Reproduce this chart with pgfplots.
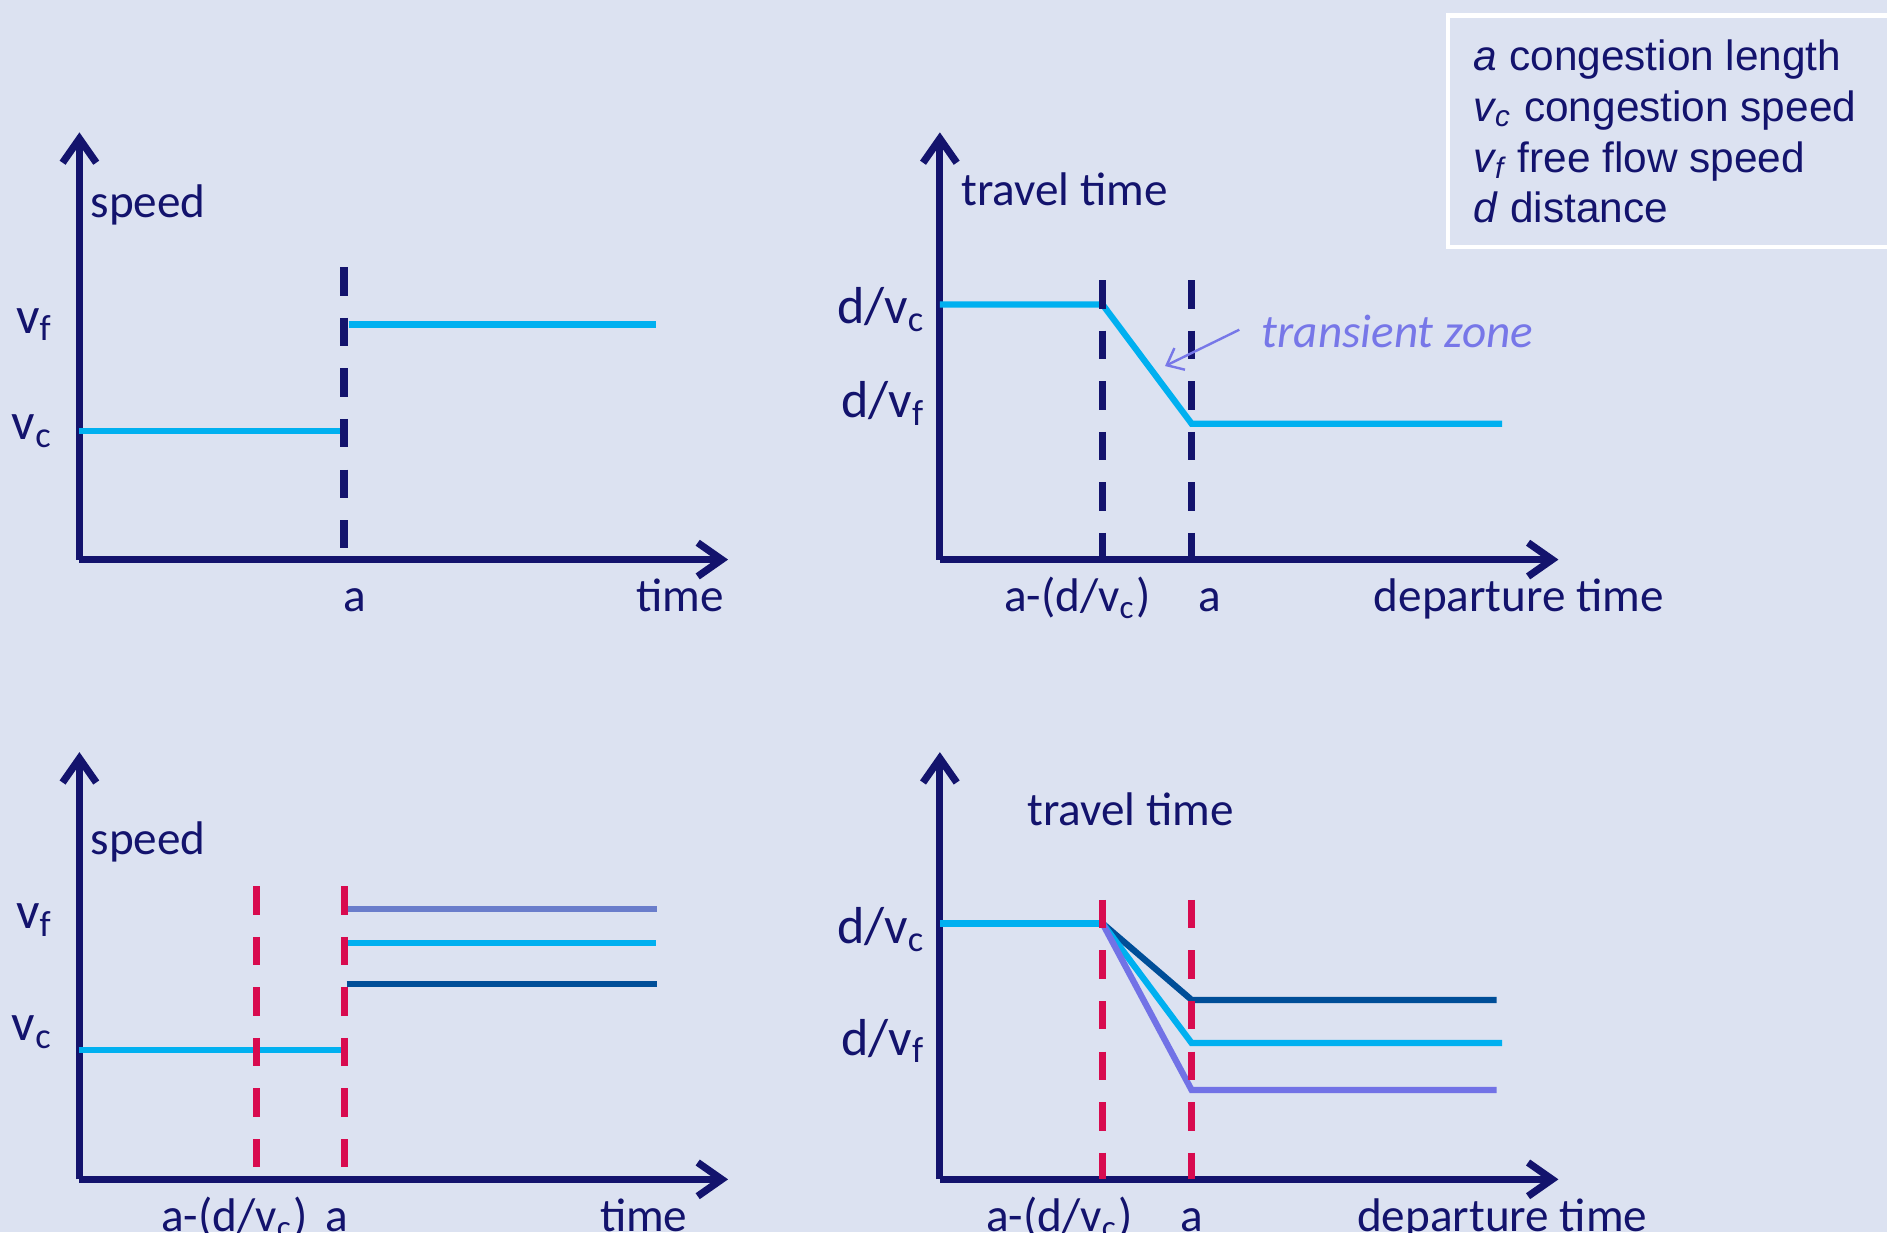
\documentclass[border=0pt]{standalone}
\usepackage{pgfplots}
\pgfplotsset{compat=1.18}
\usepackage{fontspec}
\setmainfont{Carlito}
\newfontfamily\arialfont{Liberation Sans}
\usetikzlibrary{arrows.meta}

\definecolor{bgc}{HTML}{DCE2F1}
\definecolor{navy}{HTML}{13136D}
\definecolor{cyanl}{HTML}{00B0F0}
\definecolor{dblue}{HTML}{004E98}
\definecolor{slate}{HTML}{6A7DCB}
\definecolor{lav}{HTML}{7272E6}
\definecolor{crim}{HTML}{D80B4F}
\definecolor{tz}{HTML}{7777E8}

\newcommand{\lblfont}{\fontsize{9.8}{11}\selectfont}
\newcommand{\vlblfont}{\fontsize{10.8}{12}\selectfont}

\pgfplotsset{
  panel/.style={
    scale only axis,
    height=88.75pt,
    anchor=south west,
    xmin=0, xmax=10, ymin=0, ymax=10,
    axis lines=left,
    axis line style={draw=navy, line width=1.5pt},
    x axis line style={-{Straight Barb[length=5pt,width=7pt]}},
    y axis line style={-{Straight Barb[length=5pt,width=7pt]}},
    major tick length=0pt,
    tick style={draw=none},
    ticklabel style={text=navy},
    xticklabel style={font=\lblfont, anchor=base, yshift=-10.75pt},
    yticklabel style={anchor=east, inner sep=0pt},
    clip=false,
  },
  dline/.style={line width=1.5pt, dash pattern=on 5.9pt off 4.6pt},
  dat/.style={line width=1.3pt},
}
\tikzset{ttl/.style={anchor=base west, font=\lblfont, text=navy, inner sep=0pt},
         xttl/.style={anchor=base, font=\lblfont, text=navy, inner sep=0pt, yshift=-10.75pt}}

\begin{document}
\begin{tikzpicture}
\fill[bgc] (0,0) rectangle (392pt,-256pt);
\begin{pgfinterruptboundingbox}
\begin{scope}
\clip (0,0) rectangle (392pt,-256pt);

% ---------- Panel 1: speed vs time ----------
\begin{axis}[panel, width=134.75pt, at={(16.5pt,-116.25pt)},
  xtick={4.25}, xticklabels={a},
  ytick={3.0,5.5}, yticklabels={v\textsubscript{c}, v\textsubscript{f}},
  yticklabel style={font=\vlblfont, xshift=-5.25pt},
]
\addplot[dat, cyanl] coordinates {(0,3.01) (4.08,3.01)};
\addplot[dat, cyanl] coordinates {(4.15,5.50) (8.89,5.50)};
\addplot[dline, navy] coordinates {(4.08,6.84) (4.08,0)};
\node[ttl] at (rel axis cs:0.016,0.80) {speed};
\node[xttl] at (rel axis cs:0.926,0) {time};
\end{axis}

% ---------- Panel 2: travel time vs departure time ----------
\begin{axis}[panel, width=128.5pt, at={(195.25pt,-116.25pt)},
  xtick={2.22,4.36}, xticklabels={a-(d/v\textsubscript{c}), a},
  ytick={3.66,5.85}, yticklabels={d/v\textsubscript{f}, d/v\textsubscript{c}},
  yticklabel style={font=\vlblfont, xshift=-2.75pt},
]
\addplot[dat, cyanl] coordinates {(0,5.97) (2.63,5.97) (4.07,3.18) (9.09,3.18)};
\addplot[dline, navy] coordinates {(2.63,6.54) (2.63,0)};
\addplot[dline, navy] coordinates {(4.07,6.54) (4.07,0)};
\addplot[line width=0.5pt, tz, -{Straight Barb[length=3pt,width=5pt]}] coordinates {(4.84,5.38) (3.64,4.53)};
\node[anchor=west, font=\lblfont\itshape, text=tz, inner sep=0pt] at (axis cs:5.19,5.35) {transient zone};
\node[ttl] at (rel axis cs:0.033,0.828) {travel time};
\node[xttl] at (rel axis cs:0.936,0) {departure time};
\end{axis}

% ---------- Panel 3: speed vs time, three scenarios ----------
\begin{axis}[panel, width=134.75pt, at={(16.5pt,-245pt)},
  xtick={2.39,3.97}, xticklabels={a-(d/v\textsubscript{c}), a},
  ytick={3.44,6.06}, yticklabels={v\textsubscript{c}, v\textsubscript{f}},
  yticklabel style={font=\vlblfont, xshift=-5.25pt},
]
\addplot[dat, cyanl] coordinates {(0,3.02) (4.09,3.02)};
\addplot[dat, slate] coordinates {(4.12,6.33) (8.91,6.33)};
\addplot[dat, cyanl] coordinates {(4.12,5.53) (8.89,5.53)};
\addplot[dat, dblue] coordinates {(4.12,4.57) (8.91,4.57)};
\addplot[dline, crim] coordinates {(2.73,6.86) (2.73,0)};
\addplot[dline, crim] coordinates {(4.09,6.86) (4.09,0)};
\node[ttl] at (rel axis cs:0.016,0.76) {speed};
\node[xttl] at (rel axis cs:0.87,0) {time};
\end{axis}

% ---------- Panel 4: travel time, three scenarios ----------
\begin{axis}[panel, width=128.5pt, at={(195.25pt,-245pt)},
  xtick={1.93,4.07}, xticklabels={a-(d/v\textsubscript{c}), a},
  ytick={3.24,5.85}, yticklabels={d/v\textsubscript{f}, d/v\textsubscript{c}},
  yticklabel style={font=\vlblfont, xshift=-2.75pt},
]
\addplot[dat, cyanl] coordinates {(0,5.99) (2.63,5.99)};
\addplot[dat, dblue] coordinates {(2.63,5.99) (4.07,4.20) (9.0,4.20)};
\addplot[dat, cyanl] coordinates {(2.63,5.99) (4.07,3.19) (9.09,3.19)};
\addplot[dat, lav] coordinates {(2.63,5.99) (4.07,2.09) (9.0,2.09)};
\addplot[dline, crim] coordinates {(2.63,6.54) (2.63,0)};
\addplot[dline, crim] coordinates {(4.07,6.54) (4.07,0)};
\node[ttl] at (rel axis cs:0.14,0.828) {travel time};
\node[xttl] at (rel axis cs:0.909,0) {departure time};
\end{axis}

% ---------- Key box ----------
\draw[white, line width=0.9pt] (300.75pt,-3.25pt) rectangle (395pt,-51.25pt);
\node[anchor=base west, text=navy, inner sep=0pt, font=\arialfont\fontsize{8.8}{10.5}\selectfont] at (306pt,-14.75pt) {\textit{a} congestion length};
\node[anchor=base west, text=navy, inner sep=0pt, font=\arialfont\fontsize{8.8}{10.5}\selectfont] at (306pt,-25.25pt) {\textit{v\textsubscript{c}} congestion speed};
\node[anchor=base west, text=navy, inner sep=0pt, font=\arialfont\fontsize{8.8}{10.5}\selectfont] at (306pt,-35.75pt) {\textit{v\textsubscript{f}} free flow speed};
\node[anchor=base west, text=navy, inner sep=0pt, font=\arialfont\fontsize{8.8}{10.5}\selectfont] at (306pt,-46.25pt) {\textit{d} distance};
\end{scope}
\end{pgfinterruptboundingbox}
\end{tikzpicture}
\end{document}
